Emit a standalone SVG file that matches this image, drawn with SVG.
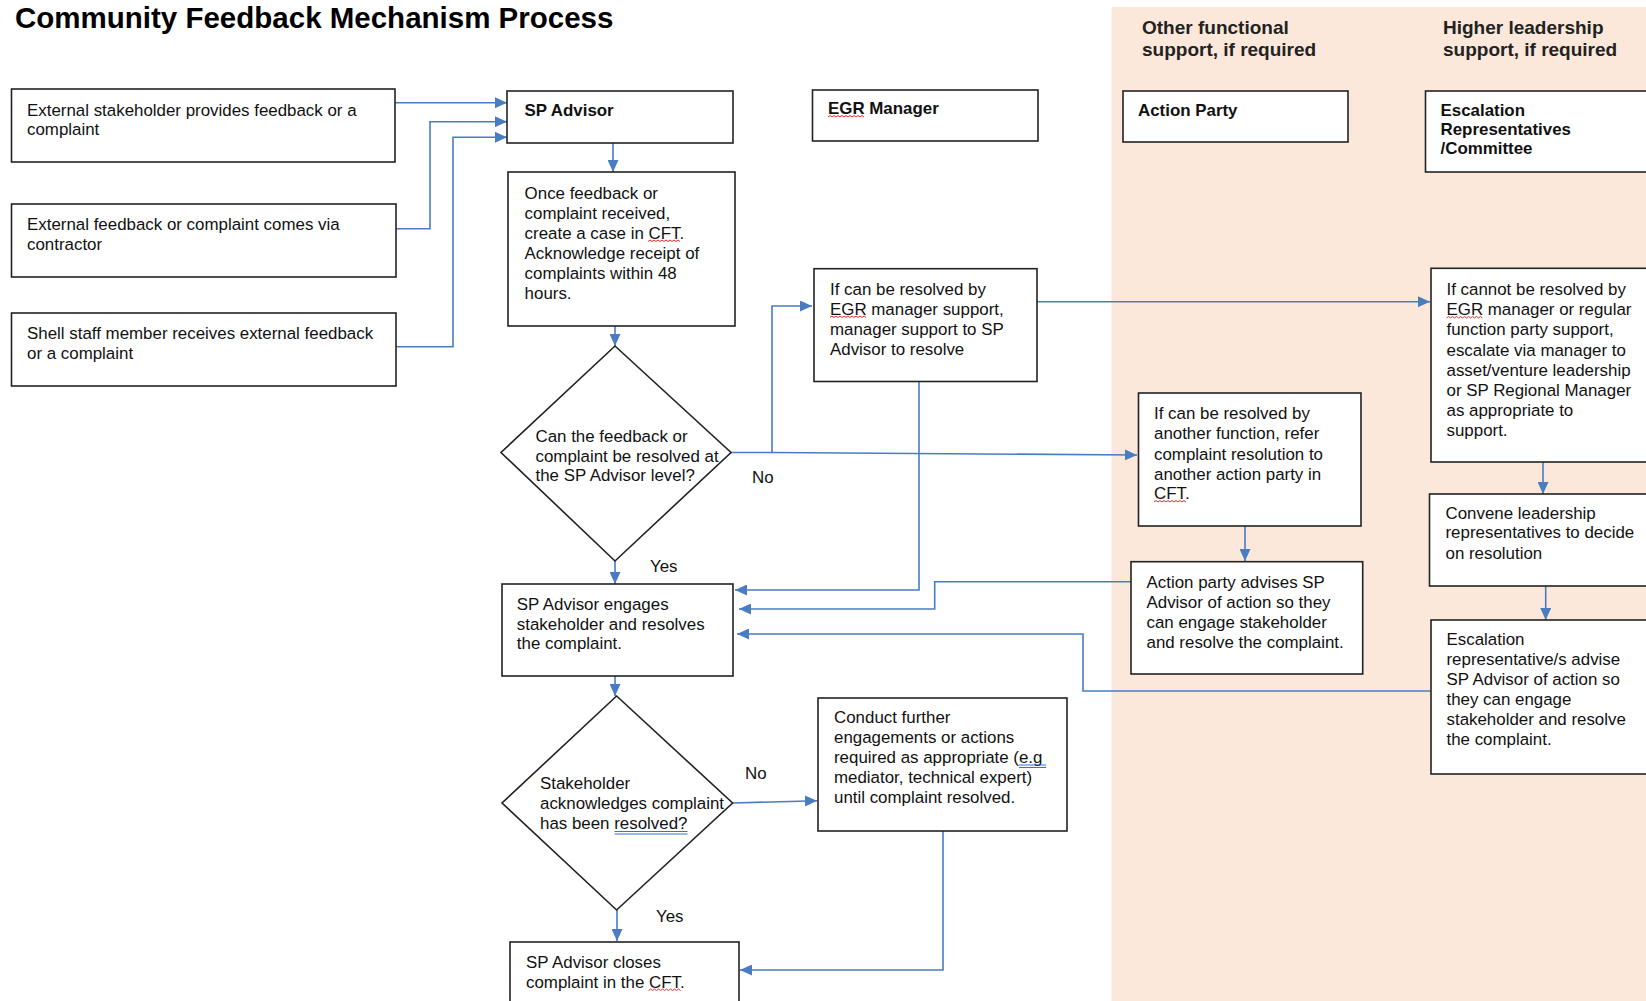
<svg xmlns="http://www.w3.org/2000/svg" width="1646" height="1001" viewBox="0 0 1646 1001">
<defs>
<marker id="arr" markerUnits="userSpaceOnUse" markerWidth="13" markerHeight="11" refX="12" refY="5.5" orient="auto">
<path d="M0,0 L12,5.5 L0,11 z" fill="#4a7cc2"/>
</marker>
<style>
.box{fill:#fff;stroke:#222;stroke-width:1.6}
.t{font-family:"Liberation Sans",Arial,sans-serif;font-size:16.9px;fill:#111}
.b{font-weight:bold}
.h{font-family:"Liberation Sans",Arial,sans-serif;font-size:19px;font-weight:bold;fill:#222}
.title{font-family:"Liberation Sans",Arial,sans-serif;font-size:29.5px;font-weight:bold;fill:#000}
.c{fill:none;stroke:#4a7cc2;stroke-width:1.6;marker-end:url(#arr)}
.sp{fill:none;stroke:#e0302a;stroke-width:1}
.gr{fill:none;stroke:#3b6fd6;stroke-width:1}
</style>
</defs>
<rect x="0" y="0" width="1646" height="1001" fill="#fff"/>
<rect id="lane-bg" x="1111.5" y="7" width="535" height="994" fill="#fce8da"/>

<text class="title" x="15" y="28">Community Feedback Mechanism Process</text>
<g id="lane-other"><text class="h" x="1142" y="33.5">Other functional</text><text class="h" x="1142" y="56">support, if required</text></g>
<g id="lane-higher"><text class="h" x="1443" y="33.5">Higher leadership</text><text class="h" x="1443" y="56">support, if required</text></g>

<g id="connectors">
<path class="c" d="M395,102.7 H507"/>
<path class="c" d="M396,228.7 H430 V121.7 H507"/>
<path class="c" d="M396,346.7 H453 V137.3 H507"/>
<path class="c" d="M613,143 V172"/>
<path class="c" d="M615,326 V346"/>
<path class="c" d="M731,452.5 H772 V306 H812"/>
<path class="c" d="M772,452.5 L1137,455"/>
<path class="c" d="M919,381.7 V590 H735"/>
<path class="c" d="M1037,301.7 H1430"/>
<path class="c" d="M615,561 V584"/>
<path class="c" d="M1245,526 V561"/>
<path class="c" d="M1131,581.7 H934.7 V609 H739"/>
<path class="c" d="M1431,691 H1083 V634 H737"/>
<path class="c" d="M1543,462 V494"/>
<path class="c" d="M1545.7,586 V620"/>
<path class="c" d="M615,676 V696"/>
<path class="c" d="M732.6,803 L817,800.7"/>
<path class="c" d="M617,910 V941"/>
<path class="c" d="M943,831 V970 H740"/>
</g>

<g id="n-ext-stakeholder"><rect class="box" x="11.5" y="89" width="383.5" height="73"/>
<text class="t" x="27" y="115.5">External stakeholder provides feedback or a</text><text class="t" x="27" y="134.5">complaint</text></g>
<g id="n-ext-contractor"><rect class="box" x="11.5" y="204" width="384.5" height="73"/>
<text class="t" x="27" y="229.5">External feedback or complaint comes via</text><text class="t" x="27" y="249.5">contractor</text></g>
<g id="n-shell-staff"><rect class="box" x="11.5" y="313" width="384.5" height="73"/>
<text class="t" x="27" y="339">Shell staff member receives external feedback</text><text class="t" x="27" y="359">or a complaint</text></g>

<g id="n-sp-advisor"><rect class="box" x="507" y="91" width="226" height="52"/>
<text class="t b" x="524.5" y="115.5">SP Advisor</text></g>
<g id="n-egr-manager"><rect class="box" x="812.5" y="90" width="225.5" height="51"/>
<text class="t b" x="828" y="114">EGR Manager</text></g>
<g id="n-action-party"><rect class="box" x="1123" y="91" width="225" height="51"/>
<text class="t b" x="1138" y="115.5">Action Party</text></g>
<g id="n-escalation-reps"><rect class="box" x="1425.5" y="91" width="240" height="81"/>
<text class="t b" x="1440.5" y="115.5">Escalation</text><text class="t b" x="1440.5" y="134.8">Representatives</text><text class="t b" x="1440.5" y="154.2">/Committee</text></g>

<g id="n-create-case"><rect class="box" x="508" y="172" width="227" height="154"/>
<text class="t" x="524.6" y="198.5">Once feedback or</text><text class="t" x="524.6" y="218.6">complaint received,</text><text class="t" x="524.6" y="238.7">create a case in CFT.</text><text class="t" x="524.6" y="258.8">Acknowledge receipt of</text><text class="t" x="524.6" y="278.9">complaints within 48</text><text class="t" x="524.6" y="299">hours.</text></g>

<g id="n-decision-sp"><polygon class="box" points="615,346 731,452.5 615,561 501,452.5"/>
<text class="t" x="535.5" y="442">Can the feedback or</text><text class="t" x="535.5" y="461.5">complaint be resolved at</text><text class="t" x="535.5" y="480.8">the SP Advisor level?</text></g>

<g id="n-egr-resolve"><rect class="box" x="814" y="268.7" width="223" height="112.8"/>
<text class="t" x="830" y="294.5">If can be resolved by</text><text class="t" x="830" y="314.5">EGR manager support,</text><text class="t" x="830" y="334.5">manager support to SP</text><text class="t" x="830" y="354.5">Advisor to resolve</text></g>

<g id="n-escalate"><rect class="box" x="1431" y="268.3" width="234" height="193.7"/>
<text class="t" x="1446.5" y="295">If cannot be resolved by</text><text class="t" x="1446.5" y="315.2">EGR manager or regular</text><text class="t" x="1446.5" y="335.4">function party support,</text><text class="t" x="1446.5" y="355.6">escalate via manager to</text><text class="t" x="1446.5" y="375.8">asset/venture leadership</text><text class="t" x="1446.5" y="396">or SP Regional Manager</text><text class="t" x="1446.5" y="416.2">as appropriate to</text><text class="t" x="1446.5" y="436.4">support.</text></g>

<g id="n-other-function"><rect class="box" x="1138.5" y="393" width="222.5" height="133"/>
<text class="t" x="1154" y="419">If can be resolved by</text><text class="t" x="1154" y="439">another function, refer</text><text class="t" x="1154" y="459.5">complaint resolution to</text><text class="t" x="1154" y="479.5">another action party in</text><text class="t" x="1154" y="499">CFT.</text></g>

<g id="n-convene"><rect class="box" x="1429.5" y="494" width="235" height="92"/>
<text class="t" x="1445.5" y="518.5">Convene leadership</text><text class="t" x="1445.5" y="538">representatives to decide</text><text class="t" x="1445.5" y="558.5">on resolution</text></g>

<g id="n-action-advises"><rect class="box" x="1131" y="561.7" width="231.7" height="112.3"/>
<text class="t" x="1146.5" y="587.5">Action party advises SP</text><text class="t" x="1146.5" y="607.5">Advisor of action so they</text><text class="t" x="1146.5" y="628">can engage stakeholder</text><text class="t" x="1146.5" y="648">and resolve the complaint.</text></g>

<g id="n-escalation-advise"><rect class="box" x="1431" y="620" width="234" height="154"/>
<text class="t" x="1446.5" y="644.5">Escalation</text><text class="t" x="1446.5" y="664.5">representative/s advise</text><text class="t" x="1446.5" y="684.5">SP Advisor of action so</text><text class="t" x="1446.5" y="704.5">they can engage</text><text class="t" x="1446.5" y="725">stakeholder and resolve</text><text class="t" x="1446.5" y="745">the complaint.</text></g>

<g id="n-sp-engages"><rect class="box" x="502" y="584" width="231" height="92"/>
<text class="t" x="516.8" y="610">SP Advisor engages</text><text class="t" x="516.8" y="629.5">stakeholder and resolves</text><text class="t" x="516.8" y="649">the complaint.</text></g>

<g id="n-decision-resolved"><polygon class="box" points="616.6,696 732.6,803 616.6,910 502,803"/>
<text class="t" x="540" y="788.5">Stakeholder</text><text class="t" x="540" y="808.5">acknowledges complaint</text><text class="t" x="540" y="829">has been resolved?</text></g>

<g id="n-further"><rect class="box" x="818" y="698" width="249" height="133"/>
<text class="t" x="834" y="723">Conduct further</text><text class="t" x="834" y="743">engagements or actions</text><text class="t" x="834" y="762.5">required as appropriate (e.g</text><text class="t" x="834" y="783">mediator, technical expert)</text><text class="t" x="834" y="802.5">until complaint resolved.</text></g>

<g id="n-close"><rect class="box" x="510" y="942" width="229" height="70"/>
<text class="t" x="526" y="967.5">SP Advisor closes</text><text class="t" x="526" y="987.5">complaint in the CFT.</text></g>

<g id="proofing-marks">
<path class="sp" d="M648,241.5 l2,-1.5 l2,1.5 l2,-1.5 l2,1.5 l2,-1.5 l2,1.5 l2,-1.5 l2,1.5 l2,-1.5 l2,1.5 l2,-1.5 l2,1.5 l2,-1.5 l2,1.5 l2,-1.5 l2,1.5"/>
<path class="sp" d="M828,117 l2,-1.5 l2,1.5 l2,-1.5 l2,1.5 l2,-1.5 l2,1.5 l2,-1.5 l2,1.5 l2,-1.5 l2,1.5 l2,-1.5 l2,1.5 l2,-1.5 l2,1.5 l2,-1.5 l2,1.5 l2,-1.5 l2,1.5"/>
<path class="sp" d="M830,317.5 l2,-1.5 l2,1.5 l2,-1.5 l2,1.5 l2,-1.5 l2,1.5 l2,-1.5 l2,1.5 l2,-1.5 l2,1.5 l2,-1.5 l2,1.5 l2,-1.5 l2,1.5 l2,-1.5 l2,1.5 l2,-1.5 l2,1.5"/>
<path class="sp" d="M1446.5,318 l2,-1.5 l2,1.5 l2,-1.5 l2,1.5 l2,-1.5 l2,1.5 l2,-1.5 l2,1.5 l2,-1.5 l2,1.5 l2,-1.5 l2,1.5 l2,-1.5 l2,1.5 l2,-1.5 l2,1.5 l2,-1.5 l2,1.5"/>
<path class="sp" d="M1154,502 l2,-1.5 l2,1.5 l2,-1.5 l2,1.5 l2,-1.5 l2,1.5 l2,-1.5 l2,1.5 l2,-1.5 l2,1.5 l2,-1.5 l2,1.5 l2,-1.5 l2,1.5 l2,-1.5 l2,1.5"/>
<path class="sp" d="M648.5,990.5 l2,-1.5 l2,1.5 l2,-1.5 l2,1.5 l2,-1.5 l2,1.5 l2,-1.5 l2,1.5 l2,-1.5 l2,1.5 l2,-1.5 l2,1.5 l2,-1.5 l2,1.5 l2,-1.5 l2,1.5"/>
<path class="gr" d="M614.5,831.5 H687.5 M614.5,834 H687.5"/>
<path class="gr" d="M1019,765 H1046 M1019,767.5 H1046"/>
</g>

<g id="labels">
<text class="t" x="752" y="483">No</text>
<text class="t" x="650" y="572">Yes</text>
<text class="t" x="745" y="779">No</text>
<text class="t" x="656" y="922">Yes</text>
</g>
</svg>
